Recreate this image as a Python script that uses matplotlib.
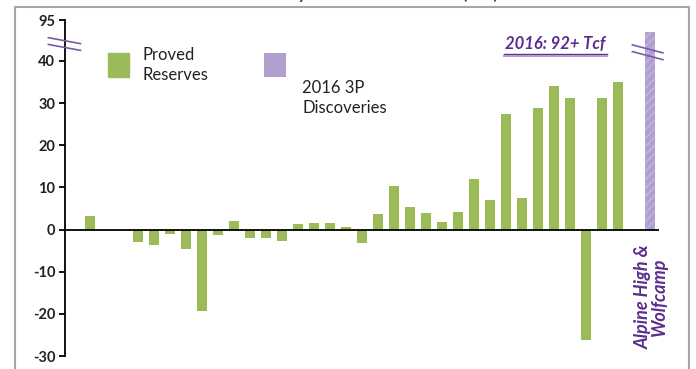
import matplotlib
matplotlib.use("Agg")
import matplotlib.pyplot as plt
from matplotlib.patches import Rectangle
import numpy as np

plt.rcParams['font.family'] = ['Lato', 'DejaVu Sans']

# slot index of each year bar (gaps are years with no data)
slots = [0, 3, 4, 5, 6, 7, 8, 9, 10, 11, 12, 13, 14, 15, 16, 17, 18, 19, 20,
         21, 22, 23, 24, 25, 26, 27, 28, 29, 30, 31, 32, 33]
proved = [3.2, -3.0, -3.7, -1.0, -4.7, -19.4, -1.4, 2.1, -2.1, -2.0, -2.8,
          1.4, 1.5, 1.6, 0.5, -3.3, 3.7, 10.4, 5.3, 3.9, 1.7, 4.2, 12.1, 7.1,
          27.3, 7.4, 28.9, 34.0, 31.2, -26.2, 31.3, 35.0]
disc_slot = 35
disc_value = 92          # real value, drawn on broken axis
disc_shown = 46.8        # height on the broken scale
ytick_vals = [-30, -20, -10, 0, 10, 20, 30, 40, 49.7]
ytick_labels = ['-30', '-20', '-10', '0', '10', '20', '30', '40', '95']

green = '#9bbb59'
purple = '#b19fd0'
dark_purple = '#5b2d8e'

fig = plt.figure(figsize=(6.96, 3.69), dpi=100)
ax = fig.add_axes([65 / 696, 1 - 356 / 369, (659 - 65) / 696, (356 - 20) / 369])

ax.bar(slots, proved, width=0.64, color=green)
ax.bar([disc_slot], [disc_shown], width=0.64, color=purple, hatch='////',
       edgecolor='#c4b6e0', linewidth=0)
ax.axhline(0, color='black', lw=1.3, zorder=3)

ax.set_xlim(-1.5625, 35.56)
ax.set_ylim(-30, 49.7)
ax.set_yticks(ytick_vals)
ax.set_yticklabels(ytick_labels, fontweight='bold', fontsize=10.5, color='#222222')
ax.set_xticks([])
for s in ['top', 'right', 'bottom']:
    ax.spines[s].set_visible(False)
ax.spines['left'].set_linewidth(1.3)
ax.tick_params(axis='y', length=4, width=1.3, pad=3)

# axis break marks
brk = dict(color='#7a5aa6', lw=1.2, clip_on=False, zorder=5)
for dy in (0, -1.6):
    ax.plot([-2.6, -0.6], [45.5 + dy, 44.1 + dy], **brk)
    ax.plot([disc_slot - 1.1, disc_slot + 0.8], [43.8 + dy, 41.9 + dy], **brk)

# annotations
ax.text(29.1, 44.1, '2016: 92+ Tcf', color=dark_purple, fontsize=12,
        fontweight='bold', style='italic', ha='center', va='center')
ax.plot([25.9, 32.3], [41.7, 41.7], color=dark_purple, lw=1.0)
ax.plot([25.9, 32.3], [41.2, 41.2], color=purple, lw=1.5)
ax.text(disc_slot + 0.1, -3.5, 'Alpine High &\nWolfcamp', color=dark_purple,
        fontsize=13, fontweight='bold', style='italic', rotation=90,
        ha='center', va='top', linespacing=0.95)

# legend
fig.patches.append(Rectangle((108 / 696, 1 - 77 / 369), 21 / 696, 24 / 369,
                             transform=fig.transFigure, color=green))
fig.patches.append(Rectangle((264 / 696, 1 - 77 / 369), 22 / 696, 24 / 369,
                             transform=fig.transFigure, color=purple, hatch='////',
                             edgecolor='#c4b6e0', linewidth=0))
fig.text(143 / 696, 1 - 65 / 369, 'Proved\nReserves', fontsize=12,
         va='center', ha='left', linespacing=1.25, color='#222222')
fig.text(302 / 696, 1 - 98 / 369, '2016 3P\nDiscoveries', fontsize=12,
         va='center', ha='left', linespacing=1.25, color='#222222')

# title, mostly cut off at top of the image
fig.text(498 / 696, 1 + 1.5 / 369, 'Yearly Reserve Additions (Tcf)', fontsize=13,
         fontweight='bold', color=dark_purple, ha='right', va='baseline')

# frame around the chart
fig.patches.append(Rectangle((15 / 696, -0.05), (689 - 15) / 696, 1.05 - 7 / 369,
                             transform=fig.transFigure, fill=False,
                             edgecolor='#a6a6a6', lw=1.5))

fig.savefig('out.png', dpi=100)
